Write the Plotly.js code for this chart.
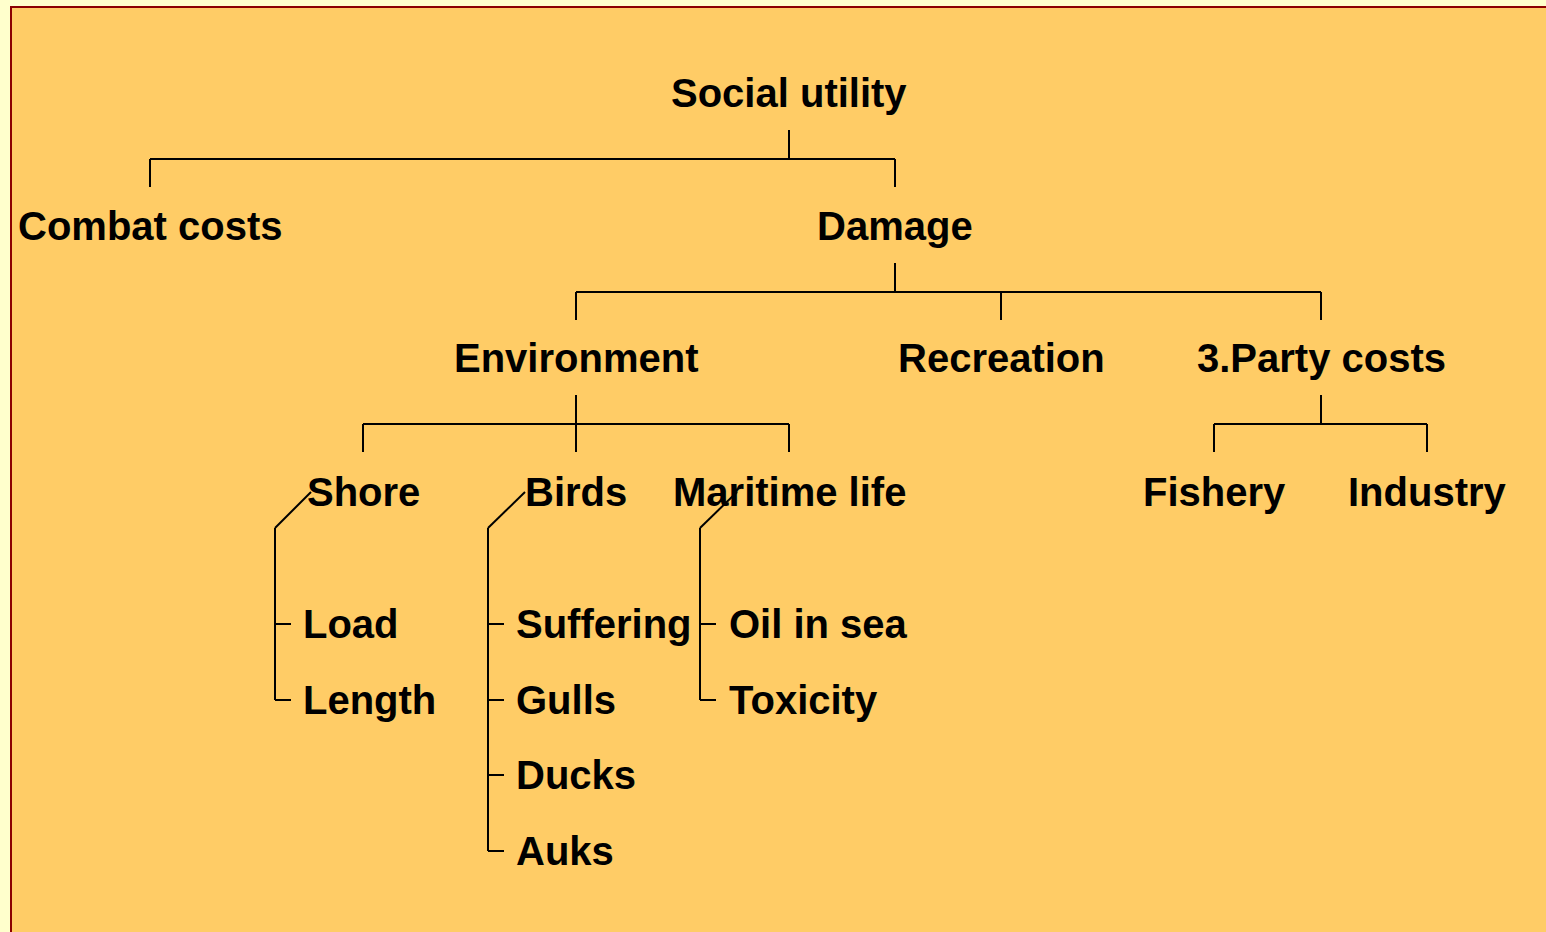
<!DOCTYPE html>
<html><head><meta charset="utf-8">
<script src="https://cdn.plot.ly/plotly-3.0.1.min.js"></script>
<style>html,body{margin:0;padding:0;background:#FFFFCC;}#chart{width:1546px;height:932px;}</style>
</head><body><div id="chart"></div>
<script>
// ---- data: tree structure ----
const labels = ['Social utility','Combat costs','Damage','Environment','Recreation','3.Party costs',
  'Shore','Birds','Maritime life','Fishery','Industry',
  'Load','Length','Suffering','Gulls','Ducks','Auks','Oil in sea','Toxicity'];
const parents = ['','Social utility','Social utility','Damage','Damage','Damage',
  'Environment','Environment','Environment','3.Party costs','3.Party costs',
  'Shore','Shore','Birds','Birds','Birds','Birds','Maritime life','Maritime life'];
const listParents = ['Shore','Birds','Maritime life'];

// ---- layout (positions in pixel coordinates of the drawing) ----
const levelY = [93, 226, 358, 492];
const listY = [624, 700, 775, 851];
const nodeX = {'Social utility':789,'Combat costs':150,'Damage':895,'Environment':576,'Recreation':1001,
  '3.Party costs':1321,'Shore':363,'Birds':576,'Maritime life':789,'Fishery':1214,'Industry':1427};
const spine = {'Shore':{diagX:311,x:275,text:301},'Birds':{diagX:525,x:488,text:514},'Maritime life':{diagX:737,x:700,text:727}};

function depth(l){let d=0,p=parents[labels.indexOf(l)];while(p){d++;p=parents[labels.indexOf(p)];}return d;}

const lineStyle = {color:'#000000', width:2};
const shapes = [];
const annotations = [];
const fontSpec = {family:'Liberation Sans, Arial, sans-serif', size:40, color:'#000000'};

// background panel
shapes.push({type:'rect',xref:'x',yref:'y',x0:11,y0:7,x1:1600,y1:1000,fillcolor:'#FFCC66',
  line:{color:'#8B0000',width:2},layer:'below'});

labels.forEach((l,i)=>{
  const p = parents[i];
  if (p && listParents.includes(p)) {
    const sibs = labels.filter((q,j)=>parents[j]===p);
    const k = sibs.indexOf(l);
    annotations.push({x:spine[p].text,y:listY[k],xref:'x',yref:'y',text:'<b>'+l+'</b>',showarrow:false,
      xanchor:'left',yanchor:'middle',font:fontSpec});
  } else {
    annotations.push({x:nodeX[l],y:levelY[depth(l)],xref:'x',yref:'y',text:'<b>'+l+'</b>',showarrow:false,
      xanchor:'center',yanchor:'middle',font:fontSpec});
  }
});

// connectors
labels.forEach((l)=>{
  const kids = labels.filter((q,j)=>parents[j]===l);
  if (!kids.length) return;
  const y = levelY[depth(l)];
  if (listParents.includes(l)) {
    const s = spine[l];
    const lastY = listY[kids.length-1];
    shapes.push({type:'line',x0:s.diagX,y0:y,x1:s.x,y1:y+36,line:lineStyle});
    shapes.push({type:'line',x0:s.x,y0:y+36,x1:s.x,y1:lastY,line:lineStyle});
    kids.forEach((c,k)=>shapes.push({type:'line',x0:s.x,y0:listY[k],x1:s.x+16,y1:listY[k],line:lineStyle}));
  } else {
    const px = nodeX[l];
    const xs = kids.map(c=>nodeX[c]);
    shapes.push({type:'line',x0:px,y0:y+37,x1:px,y1:y+66,line:lineStyle});
    shapes.push({type:'line',x0:Math.min(...xs),y0:y+66,x1:Math.max(...xs),y1:y+66,line:lineStyle});
    xs.forEach(x=>shapes.push({type:'line',x0:x,y0:y+66,x1:x,y1:y+94,line:lineStyle}));
  }
});
shapes.forEach(s=>{if(!s.xref){s.xref='x';s.yref='y';}});

const layout = {
  width:1546,height:932,margin:{l:0,r:0,t:0,b:0},
  paper_bgcolor:'#FFFFCC',plot_bgcolor:'rgba(0,0,0,0)',
  xaxis:{range:[0,1546],visible:false,fixedrange:true},
  yaxis:{range:[932,0],visible:false,fixedrange:true},
  shapes:shapes,annotations:annotations,showlegend:false
};
Plotly.newPlot('chart',[{x:[],y:[],type:'scatter',mode:'markers',hoverinfo:'skip'}],layout,{staticPlot:true,displayModeBar:false});
</script></body></html>
